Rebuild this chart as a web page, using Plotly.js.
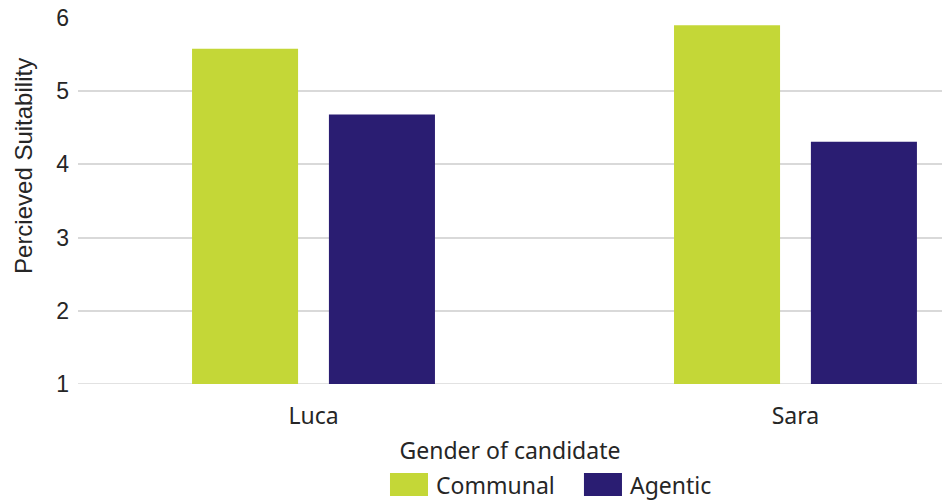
<!DOCTYPE html>
<html>
<head>
<meta charset="utf-8">
<script src="https://cdn.plot.ly/plotly-3.0.1.min.js"></script>
<style>html,body{margin:0;padding:0;background:#fff;}#chart{width:942px;height:501px;}</style>
</head>
<body>
<div id="chart"></div>
<script>
const categories = ["Luca", "Sara"];
const seriesNames = ["Communal", "Agentic"];
const communal = [5.58, 5.9];
const agentic = [4.68, 4.31];
const colors = ["#c4d737", "#2a1d72"];
const yTicks = [1, 2, 3, 4, 5, 6];

const FONT = "Noto Sans, Inter, sans-serif";
const FONT2 = "Liberation Sans, Arial, sans-serif";
const TXT = "#262626";

const traces = [
  {type: "bar", name: seriesNames[0], x: categories, y: communal, marker: {color: colors[0]}, width: 0.22, offset: -0.252, showlegend: false, hoverinfo: "x+y+name"},
  {type: "bar", name: seriesNames[1], x: categories, y: agentic, marker: {color: colors[1]}, width: 0.22, offset: 0.032, showlegend: false, hoverinfo: "x+y+name"}
];

// baseline gridline at y = 1 (edge gridlines are not drawn by plotly)
const shapes = [
  {type: "line", xref: "paper", yref: "y", x0: 0, x1: 1, y0: yTicks[0], y1: yTicks[0], line: {color: "#d9d9d9", width: 1.5}, layer: "below"}
];
const annotations = [
  {xref: "paper", yref: "paper", x: -0.0637, y: 0.5956, xanchor: "center", yanchor: "middle", textangle: -90, text: "Percieved Suitability", showarrow: false, font: {family: FONT2, size: 24, color: TXT}}
];

// legend drawn as swatches + labels (paper coords)
const legX = [0.3611, 0.5856];
seriesNames.forEach((n, i) => {
  shapes.push({type: "rect", xref: "paper", yref: "paper", x0: legX[i], x1: legX[i] + 0.044, y0: -0.306, y1: -0.2432, fillcolor: colors[i], line: {width: 0}});
  annotations.push({xref: "paper", yref: "paper", x: legX[i] + 0.051, y: -0.2746, xanchor: "left", yanchor: "middle", text: n, showarrow: false, font: {family: FONT, size: 23, color: TXT}});
});

const layout = {
  width: 942, height: 501,
  margin: {l: 78, r: 0, t: 18, b: 117},
  paper_bgcolor: "#fff", plot_bgcolor: "#fff",
  barmode: "overlay",
  showlegend: false,
  font: {family: FONT, size: 20, color: TXT},
  xaxis: {
    type: "category",
    range: [-0.4886, 1.304],
    showgrid: false, zeroline: false, showline: false,
    ticks: "", ticklabelstandoff: 16,
    tickfont: {family: FONT, size: 23, color: TXT},
    title: {text: "Gender of candidate", font: {family: FONT, size: 23, color: TXT}, standoff: 12}
  },
  yaxis: {
    range: [1, 6],
    tickvals: yTicks,
    ticktext: yTicks.map(String),
    showgrid: true, gridcolor: "#d9d9d9", gridwidth: 1.5,
    zeroline: false, showline: false,
    ticks: "", ticklabelstandoff: 8,
    tickfont: {family: FONT2, size: 23, color: TXT}
  },
  shapes: shapes,
  annotations: annotations
};

Plotly.newPlot("chart", traces, layout, {displayModeBar: false, responsive: false});
</script>
</body>
</html>
